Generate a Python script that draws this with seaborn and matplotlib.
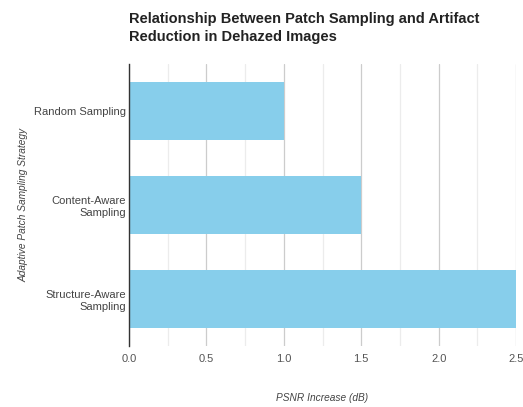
import matplotlib
matplotlib.use("Agg")
import matplotlib.pyplot as plt
import seaborn as sns
import pandas as pd
from matplotlib.ticker import MultipleLocator

strategies = ["Random Sampling", "Content-Aware\nSampling", "Structure-Aware\nSampling"]
psnr_gain = [1.0, 1.5, 2.5]
x_ticks = [0.0, 0.5, 1.0, 1.5, 2.0, 2.5]

df = pd.DataFrame({"strategy": strategies, "psnr": psnr_gain})

sns.set_theme(style="white")
plt.rcParams["font.family"] = ["Liberation Sans", "DejaVu Sans"]

fig = plt.figure(figsize=(5.23, 4.07), dpi=100)
ax = fig.add_axes([0.2467, 0.150, 0.740, 0.693])

sns.barplot(data=df, x="psnr", y="strategy", orient="h", color="#87CEEB",
            saturation=1, width=0.62, linewidth=0, ax=ax, zorder=3)

ax.set_xlim(0, 2.5)
ax.set_xticks(x_ticks)
ax.set_xticklabels([f"{v:.1f}" for v in x_ticks])
ax.xaxis.set_minor_locator(MultipleLocator(0.25))
ax.grid(axis="x", which="major", color="#cccccc", linewidth=0.9, zorder=0)
ax.grid(axis="x", which="minor", color="#ececec", linewidth=0.9, zorder=0)

for side in ["top", "right", "bottom"]:
    ax.spines[side].set_visible(False)
ax.spines["left"].set_color("#333333")
ax.spines["left"].set_linewidth(1.0)
ax.spines["left"].set_zorder(5)

ax.tick_params(axis="x", which="both", length=0, pad=6, labelsize=8, colors="#555555")
ax.tick_params(axis="y", length=0, pad=2, labelsize=8, colors="#444444")
for lbl in ax.get_yticklabels():
    lbl.set_horizontalalignment("right")
    lbl.set_multialignment("right")

ax.set_xlabel("PSNR Increase (dB)", fontsize=7.3, style="italic", color="#444444", labelpad=21)
ax.set_ylabel("Adaptive Patch Sampling Strategy", fontsize=7.3, style="italic", color="#444444", labelpad=4)

fig.text(0.2467, 0.97, "Relationship Between Patch Sampling and Artifact\nReduction in Dehazed Images",
         fontsize=10.5, fontweight="bold", color="#222222", va="top", ha="left", linespacing=1.35)

fig.savefig("out.png", dpi=100, facecolor="white")
